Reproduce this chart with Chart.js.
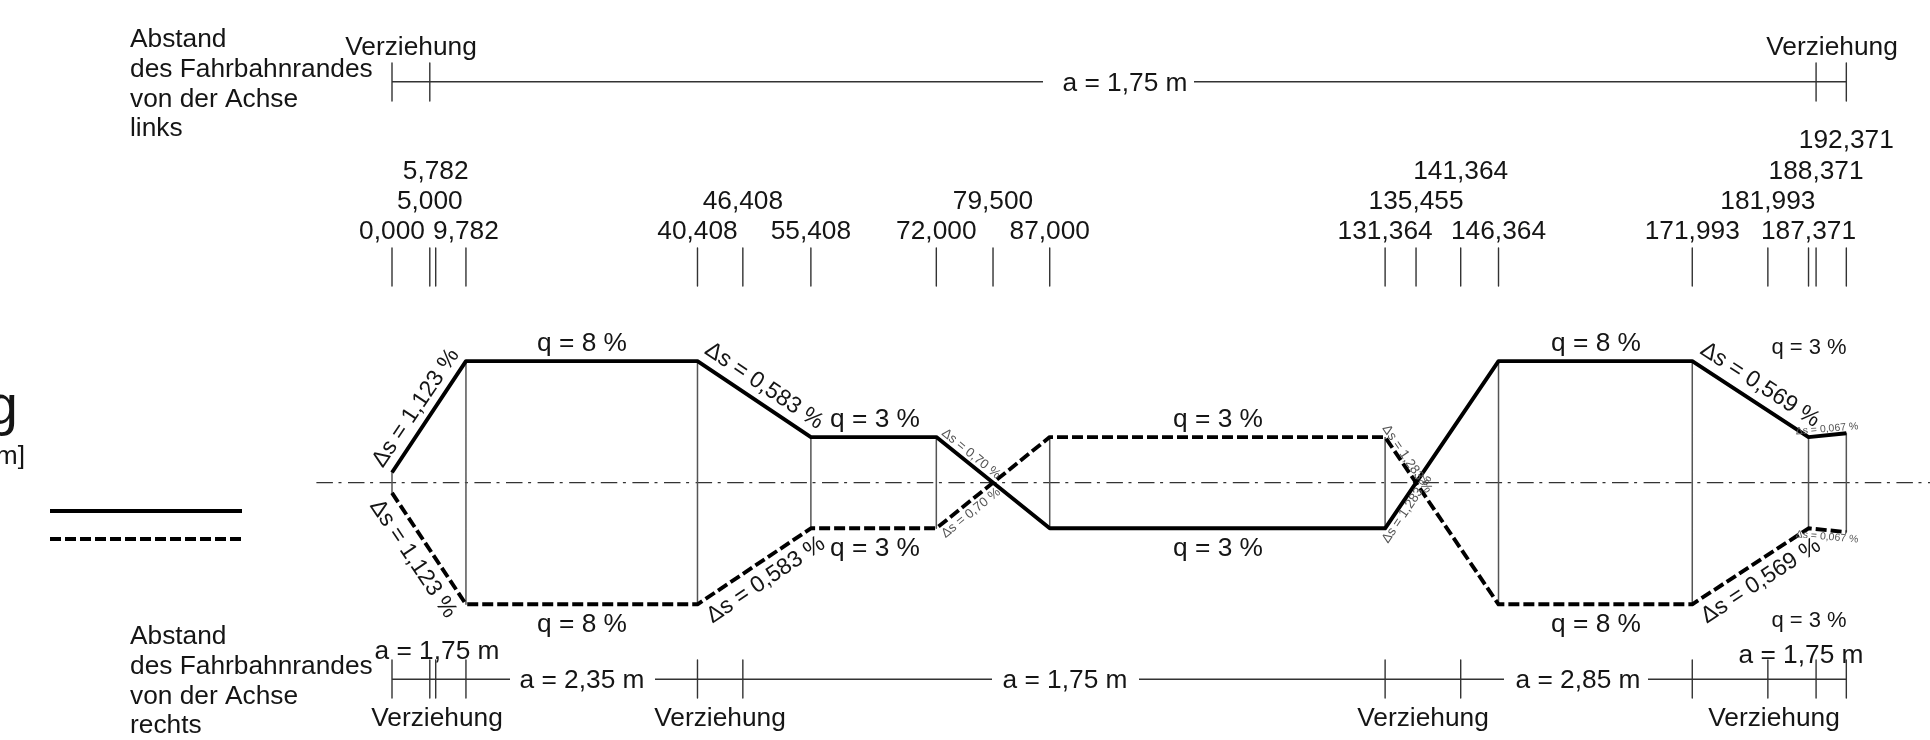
<!DOCTYPE html>
<html lang="de">
<head>
<meta charset="utf-8">
<title>Verwindung</title>
<style>
  html, body { margin: 0; background: #fff; }
  canvas { display: block; }
</style>
</head>
<body>
<canvas id="chart" width="1930" height="740"></canvas>
<script src="https://cdn.jsdelivr.net/npm/chart.js@4/dist/chart.umd.min.js"></script>
<script>
// stations [m], grouped by the row their label sits in
const stationsRow1 = [0, 9.782, 40.408, 55.408, 72, 87, 131.364, 146.364, 171.993, 187.371];
const stationsRow2 = [5, 46.408, 79.5, 135.455, 181.993];
const stationsRow3 = [5.782, 141.364, 188.371];
const stationsRow4 = [192.371];

// cross slope [%] at each break point
const breakStations = [0, 9.782, 40.408, 55.408, 72, 87, 131.364, 146.364, 171.993, 187.371, 192.371];
const slopeLeft     = [0.67, 8, 8, 3, 3, -3, -3, 8, 8, 3, 3.25];
const slopeRight    = [-0.67, -8, -8, -3, -3, 3, 3, -8, -8, -3, -3.25];

const rulerTopStations    = [0, 5, 188.371, 192.371];
const rulerBottomStations = [0, 5, 5.782, 9.782, 40.408, 46.408, 131.364, 141.364, 171.993, 181.993, 188.371, 192.371];

const PX_PER_M = 7.56, X0 = 392;
const PX_PER_PCT = 15.2, Y0 = 482.7;
const W = 1930, H = 740;

const allStations = [...stationsRow1, ...stationsRow2, ...stationsRow3, ...stationsRow4];

const BIG = '26.3px "Liberation Sans"';
const SLANT = '23px "Liberation Sans"';
const MID = '22px "Liberation Sans"';
const SMALL = '13.2px "Liberation Sans"';
const TINY = '10.5px "Liberation Sans"';

const ink = '#151515', grey = '#555';

function fmtStation(v) {
  return v.toLocaleString('de-DE', { minimumFractionDigits: 3, maximumFractionDigits: 3 });
}

// one polyline broken by null points, drawn on the layout axis
function ticks(stations, yFrom, yTo) {
  return stations.flatMap(s => [{ x: s, y: yFrom }, { x: s, y: yTo }, { x: s, y: null }]);
}

function lineSet(data, extra) {
  return Object.assign({
    data, yAxisID: 'y', borderColor: '#000', borderWidth: 3.9, pointRadius: 0,
    tension: 0, fill: false, spanGaps: false, borderCapStyle: 'butt', borderJoinStyle: 'round',
  }, extra);
}

function zip(xs, ys) { return xs.map((x, i) => ({ x, y: ys[i] })); }

const profile = [
  lineSet(zip(breakStations, slopeLeft)),
  lineSet(zip(breakStations, slopeRight), { borderDash: [11, 4] }),
  lineSet(breakStations.flatMap((s, i) => [{ x: s, y: slopeLeft[i] }, { x: s, y: slopeRight[i] }, { x: s, y: null }]),
    { borderColor: '#555', borderWidth: 1.5 }),
  lineSet([{ x: -10, y: 0 }, { x: 203.44, y: 0 }], { borderColor: '#333', borderWidth: 1.3, borderDash: [16.5, 5.6, 3, 6.5] }),
];

const thin = { yAxisID: 'yLayout', borderColor: '#333', borderWidth: 1.4 };
const rulers = [
  lineSet(ticks(allStations, 248, 286), thin),
  lineSet(ticks(rulerTopStations, 63, 101), thin),
  lineSet(ticks(rulerBottomStations, 660, 698), thin),
  lineSet([{ x: 0, y: 81.7 }, { x: (1043 - X0) / PX_PER_M, y: 81.7 }, { x: 100, y: null },
           { x: (1194 - X0) / PX_PER_M, y: 81.7 }, { x: 192.371, y: 81.7 }], thin),
  lineSet([{ x: 0, y: 679.3 }, { x: (510 - X0) / PX_PER_M, y: 679.3 }, { x: 20, y: null },
           { x: (655 - X0) / PX_PER_M, y: 679.3 }, { x: (992 - X0) / PX_PER_M, y: 679.3 }, { x: 90, y: null },
           { x: (1139 - X0) / PX_PER_M, y: 679.3 }, { x: (1504 - X0) / PX_PER_M, y: 679.3 }, { x: 150, y: null },
           { x: (1648 - X0) / PX_PER_M, y: 679.3 }, { x: 192.371, y: 679.3 }], thin),
];

// text, x, y, font, rotation in degrees, colour
const notes = [
  ['Verziehung', 411, 46], ['Verziehung', 1832, 46],
  ['Verziehung', 437, 717], ['Verziehung', 720, 717], ['Verziehung', 1423, 717], ['Verziehung', 1774, 717],
  ['a = 1,75 m', 1125, 82], ['a = 2,35 m', 582, 679], ['a = 1,75 m', 1065, 679], ['a = 2,85 m', 1578, 679],
  ['a = 1,75 m', 437, 650], ['a = 1,75 m', 1801, 654],
  ['q = 8 %', 582, 342], ['q = 8 %', 582, 623], ['q = 8 %', 1596, 342], ['q = 8 %', 1596, 623],
  ['q = 3 %', 875, 418], ['q = 3 %', 875, 547], ['q = 3 %', 1218, 418], ['q = 3 %', 1218, 547],
  ['q = 3 %', 1809, 346, MID], ['q = 3 %', 1809, 619, MID],
  ['Δs = 1,123 %', 416, 408, SLANT, -56], ['Δs = 1,123 %', 413, 559, SLANT, 56],
  ['Δs = 0,583 %', 764, 386, SLANT, 34], ['Δs = 0,583 %', 766, 580, SLANT, -34],
  ['Δs = 0,569 %', 1760, 385, SLANT, 33], ['Δs = 0,569 %', 1761, 581, SLANT, -33],
  ['Δs = 0,70 %', 971, 454, SMALL, 39, grey], ['Δs = 0,70 %', 971, 513, SMALL, -39, grey],
  ['Δs = 1,283 %', 1407, 459, SMALL, 56, grey], ['Δs = 1,283 %', 1407, 509, SMALL, -56, grey],
  ['Δs = 0,067 %', 1827, 429, TINY, -5, grey], ['Δs = 0,067 %', 1827, 537, TINY, 5, grey],
];

const sideLeft = [['Abstand', 38], ['des Fahrbahnrandes', 68], ['von der Achse', 98], ['links', 127],
                  ['Abstand', 635], ['des Fahrbahnrandes', 665], ['von der Achse', 695], ['rechts', 724]];

const annotate = {
  id: 'annotate',
  afterDraw(chart) {
    const ctx = chart.ctx, xs = chart.scales.x;
    ctx.save();
    ctx.fillStyle = ink;
    ctx.textBaseline = 'middle';

    ctx.font = BIG;
    ctx.textAlign = 'center';
    [stationsRow1, stationsRow2, stationsRow3, stationsRow4].forEach((row, i) => {
      row.forEach(s => ctx.fillText(fmtStation(s), xs.getPixelForValue(s), 232 - i * 30.3));
    });

    notes.forEach(([text, x, y, font, rot, colour]) => {
      ctx.save();
      ctx.translate(x, rot ? y : y + 2);
      ctx.rotate((rot || 0) * Math.PI / 180);
      ctx.font = font || BIG;
      ctx.fillStyle = colour || ink;
      ctx.fillText(text, 0, 0);
      ctx.restore();
    });

    ctx.textAlign = 'left';
    sideLeft.forEach(([text, y]) => ctx.fillText(text, 130, y + 2));

    // cut off at the left edge, like the source
    ctx.textAlign = 'right';
    ctx.textBaseline = 'alphabetic';
    ctx.font = '56px "Liberation Sans"';
    ctx.fillText('g', 18, 424);
    ctx.font = BIG;
    ctx.fillText('m]', 25, 464);

    // line key
    ctx.strokeStyle = '#000';
    ctx.lineWidth = 3.9;
    ctx.beginPath(); ctx.moveTo(50, 511); ctx.lineTo(242, 511); ctx.stroke();
    ctx.setLineDash([11, 4]);
    ctx.beginPath(); ctx.moveTo(50, 539); ctx.lineTo(242, 539); ctx.stroke();
    ctx.restore();
  },
};

new Chart(document.getElementById('chart'), {
  type: 'line',
  data: { datasets: [...profile, ...rulers] },
  plugins: [annotate],
  options: {
    responsive: false,
    animation: false,
    devicePixelRatio: 1,
    layout: { padding: 0 },
    plugins: { legend: { display: false }, tooltip: { enabled: false } },
    scales: {
      x: { type: 'linear', display: false, min: -X0 / PX_PER_M, max: (W - X0) / PX_PER_M },
      y: { type: 'linear', display: false, min: (Y0 - H) / PX_PER_PCT, max: Y0 / PX_PER_PCT },
      yLayout: { type: 'linear', display: false, min: 0, max: H, reverse: true },
    },
  },
});
</script>
</body>
</html>
